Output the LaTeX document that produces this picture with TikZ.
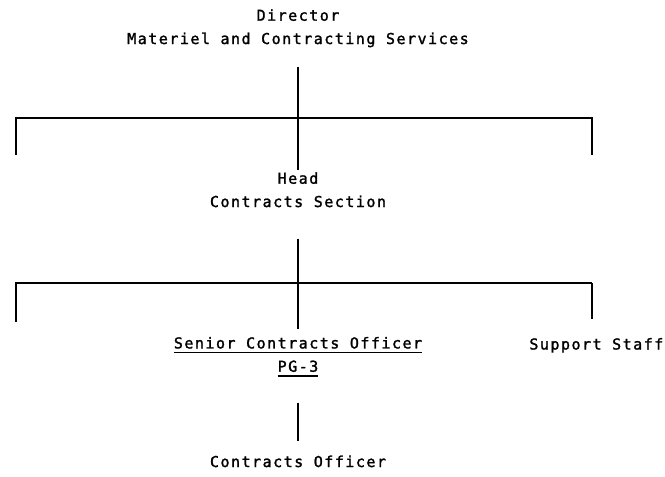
\documentclass[tikz,border=0pt]{standalone}
\usepackage{fontspec}
\newfontfamily\chartfont[LetterSpace=10, FakeBold=1.6]{DejaVu Sans Mono}
\usepackage{tikz}
\usetikzlibrary{positioning}

\newcommand{\ulbar}[1]{\leavevmode\vtop{\hbox{#1}\kern3pt\hrule height 1.6pt}}

\begin{document}
\begin{tikzpicture}[x=1pt, y=-1pt, thick]
        \tikzstyle{unit} = [align=center, font=\chartfont\fontsize{15}{23.3}\selectfont, inner sep=0pt, anchor=base]
        \tikzstyle{line} = [draw, line width=2pt]

        \useasboundingbox (0,0) rectangle (665,477);

        \node [unit] (director) at (298,44) {Director\\Materiel and Contracting Services};
        \node [unit] (head) at (298,207) {Head\\Contracts Section};
        \node [unit] (senior) at (298,371.7) {\ulbar{Senior Contracts Officer}\\\ulbar{PG-3}};
        \node [unit, anchor=base west] (support) at (529,349.5) {Support Staff};
        \node [unit] (officer) at (298,467) {Contracts Officer};

        % branch bars
        \coordinate (bar1w) at (16,118);
        \coordinate (bar1e) at (592,118);
        \coordinate (tick1w) at (16,155);
        \coordinate (tick1e) at (592,155);
        \coordinate (bar2w) at (16,283);
        \coordinate (bar2e) at (592,283);
        \coordinate (tick2w) at (16,322);

        \path [line] (tick1w) -- (bar1w) -- (bar1e) -- (tick1e);
        \path [line] (tick2w) -- (bar2w) -- (bar2e);

        \path [line, shorten <=19.5pt, shorten >=2.4pt] (director) -- (head);
        \path [line, shorten <=31pt, shorten >=8pt] (head) -- (senior);
        \path [line, shorten <=25.7pt, shorten >=14.6pt] (senior) -- (officer);
        \path [line, shorten >=19pt] (bar2e) -- (bar2e |- support.north);
\end{tikzpicture}
\end{document}
